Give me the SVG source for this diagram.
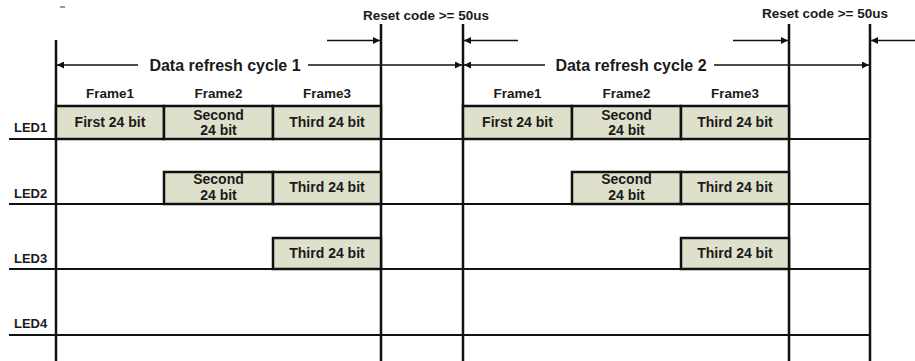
<svg xmlns="http://www.w3.org/2000/svg" width="915" height="361" viewBox="0 0 915 361">
<style>
  text { font-family: "Liberation Sans", Arial, sans-serif; font-weight: bold; fill: #1a1a1a; }
  .big { font-size: 16px; }
  .lbl { font-size: 13px; }
  .box { font-size: 14px; text-anchor: middle; }
  .frm { font-size: 13.5px; text-anchor: middle; }
  .rst { font-size: 13.5px; text-anchor: middle; }
  .cell { fill: #dfe0cb; stroke: #111; stroke-width: 2.5; }
  .vl { stroke: #111; stroke-width: 2.5; fill: none; }
  .hl { stroke: #111; stroke-width: 2.2; fill: none; }
  .ar { stroke: #111; stroke-width: 1.6; fill: none; }
</style>
<defs>
  <marker id="ah" viewBox="0 0 10 10" refX="10" refY="5" markerWidth="9" markerHeight="7" markerUnits="userSpaceOnUse" orient="auto">
    <path d="M0,0 L10,5 L0,10 z" fill="#111"/>
  </marker>
</defs>
<rect width="915" height="361" fill="#fff"/>
<line x1="60" y1="7" x2="65" y2="7" stroke="#555" stroke-width="1.2"/>

<g id="grid">
  <line class="vl" x1="56" y1="40" x2="56" y2="361"/>
  <line class="vl" x1="381" y1="24" x2="381" y2="361"/>
  <line class="vl" x1="463" y1="24" x2="463" y2="361"/>
  <line class="vl" x1="789" y1="24" x2="789" y2="361"/>
  <line class="vl" x1="870" y1="24" x2="870" y2="361"/>
  <line class="hl" x1="9" y1="139" x2="870" y2="139"/>
  <line class="hl" x1="9" y1="204" x2="870" y2="204"/>
  <line class="hl" x1="9" y1="269" x2="870" y2="269"/>
  <line class="hl" x1="9" y1="335" x2="870" y2="335"/>
</g>

<g id="labels">
  <text class="lbl" x="14" y="131.5">LED1</text>
  <text class="lbl" x="14" y="197.5">LED2</text>
  <text class="lbl" x="14" y="262.5">LED3</text>
  <text class="lbl" x="14" y="327.5">LED4</text>
  <text class="rst" x="426" y="19.5">Reset code &gt;= 50us</text>
  <text class="rst" x="825" y="17.5">Reset code &gt;= 50us</text>
  <text class="big" x="225" y="70.5" text-anchor="middle">Data refresh cycle 1</text>
  <text class="big" x="631" y="70.5" text-anchor="middle">Data refresh cycle 2</text>
  <text class="frm" x="110" y="97.5">Frame1</text>
  <text class="frm" x="218.5" y="97.5">Frame2</text>
  <text class="frm" x="327" y="97.5">Frame3</text>
  <text class="frm" x="517.5" y="97.5">Frame1</text>
  <text class="frm" x="626.5" y="97.5">Frame2</text>
  <text class="frm" x="735" y="97.5">Frame3</text>
</g>

<g id="connectors">
  <line class="ar" x1="327" y1="40.5" x2="380" y2="40.5" marker-end="url(#ah)"/>
  <line class="ar" x1="518" y1="40.5" x2="464" y2="40.5" marker-end="url(#ah)"/>
  <line class="ar" x1="733" y1="40.5" x2="788" y2="40.5" marker-end="url(#ah)"/>
  <line class="ar" x1="915" y1="40.5" x2="871" y2="40.5" marker-end="url(#ah)"/>
  <line class="ar" x1="138" y1="65" x2="57" y2="65" marker-end="url(#ah)"/>
  <line class="ar" x1="308" y1="65" x2="462" y2="65" marker-end="url(#ah)"/>
  <line class="ar" x1="545" y1="65" x2="464" y2="65" marker-end="url(#ah)"/>
  <line class="ar" x1="714" y1="65" x2="869" y2="65" marker-end="url(#ah)"/>
</g>

<g id="cycle1-led1">
  <rect class="cell" x="56" y="106" width="108" height="33"/>
  <rect class="cell" x="164" y="106" width="109" height="33"/>
  <rect class="cell" x="273" y="106" width="108" height="33"/>
  <text class="box" x="110" y="127">First 24 bit</text>
  <text class="box" x="218.5" y="119.5">Second</text>
  <text class="box" x="218.5" y="135">24 bit</text>
  <text class="box" x="327" y="127">Third 24 bit</text>
</g>
<g id="cycle1-led2">
  <rect class="cell" x="164" y="172" width="109" height="32"/>
  <rect class="cell" x="273" y="172" width="108" height="32"/>
  <text class="box" x="218.5" y="183.5">Second</text>
  <text class="box" x="218.5" y="199.5">24 bit</text>
  <text class="box" x="327" y="192">Third 24 bit</text>
</g>
<g id="cycle1-led3">
  <rect class="cell" x="273" y="238" width="108" height="31"/>
  <text class="box" x="327" y="258">Third 24 bit</text>
</g>

<g id="cycle2-led1">
  <rect class="cell" x="463" y="106" width="109" height="33"/>
  <rect class="cell" x="572" y="106" width="109" height="33"/>
  <rect class="cell" x="681" y="106" width="108" height="33"/>
  <text class="box" x="517.5" y="127">First 24 bit</text>
  <text class="box" x="626.5" y="119.5">Second</text>
  <text class="box" x="626.5" y="135">24 bit</text>
  <text class="box" x="735" y="127">Third 24 bit</text>
</g>
<g id="cycle2-led2">
  <rect class="cell" x="572" y="172" width="109" height="32"/>
  <rect class="cell" x="681" y="172" width="108" height="32"/>
  <text class="box" x="626.5" y="183.5">Second</text>
  <text class="box" x="626.5" y="199.5">24 bit</text>
  <text class="box" x="735" y="192">Third 24 bit</text>
</g>
<g id="cycle2-led3">
  <rect class="cell" x="681" y="238" width="108" height="31"/>
  <text class="box" x="735" y="258">Third 24 bit</text>
</g>
</svg>
